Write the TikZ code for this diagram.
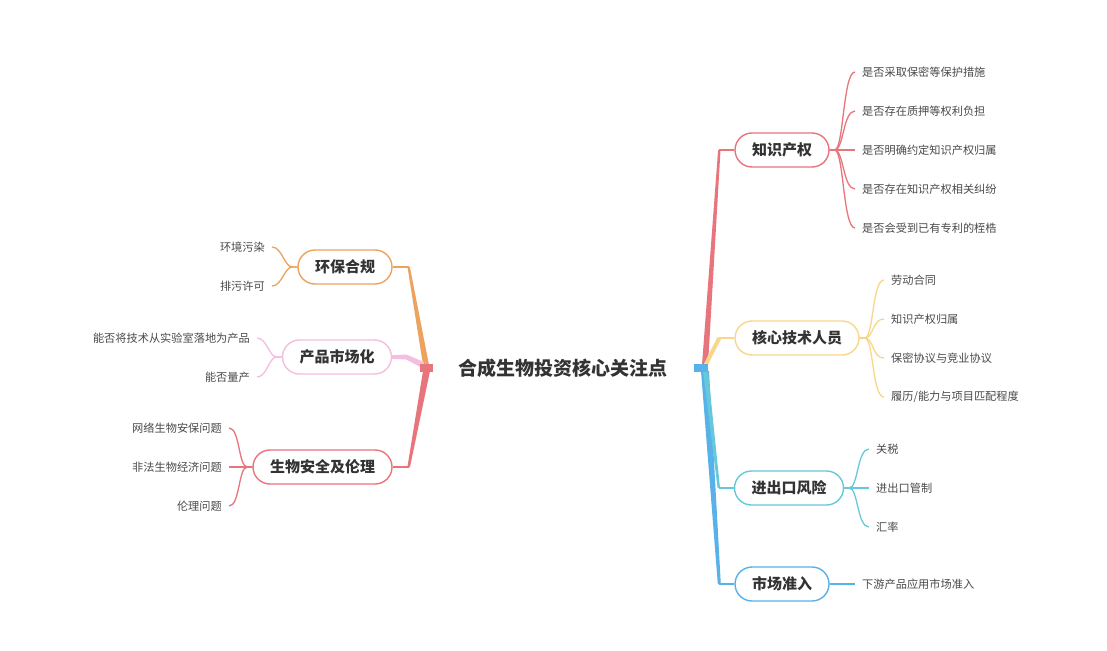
\documentclass[tikz,border=0pt]{standalone}
\usepackage{fontspec}
\setmainfont{Noto Sans CJK SC}
\usetikzlibrary{calc}
\definecolor{cred}{HTML}{E8747C}
\definecolor{cyel}{HTML}{F8D78B}
\definecolor{ccyan}{HTML}{66C8DA}
\definecolor{cblue}{HTML}{58B1E9}
\definecolor{corange}{HTML}{ECA35F}
\definecolor{cpink}{HTML}{F3BEDF}
\definecolor{tdark}{HTML}{333333}
\definecolor{tleaf}{HTML}{4A4A4A}
\tikzset{
  topic/.style={draw=#1, line width=1.4pt, fill=white, rounded corners=17pt,
    minimum height=34pt, inner xsep=17pt, inner ysep=0pt, text=tdark,
    font=\fontsize{15pt}{15pt}\selectfont\bfseries},
  leafR/.style={anchor=west, inner sep=0pt, text=tleaf, font=\fontsize{11.2pt}{12pt}\selectfont},
  leafL/.style={anchor=east, inner sep=0pt, text=tleaf, font=\fontsize{11.2pt}{12pt}\selectfont},
  twig/.style={draw=#1, line width=1.3pt},
  stem/.style={draw=#1, line width=2pt},
}
\begin{document}
\begin{tikzpicture}[x=1pt,y=-1pt]
\useasboundingbox (0,0) rectangle (1107,650);
\fill[white] (0,0) rectangle (1107,650);

% root
\node[inner sep=0pt, text=tdark, font=\fontsize{19pt}{19pt}\selectfont\bfseries] (root) at (563,368) {合成生物投资核心关注点};

% topics right
\node[topic=cred] (k1) at (782,150) {知识产权};
\node[topic=cyel] (k2) at (797,338) {核心技术人员};
\node[topic=ccyan] (k3) at (789,488) {进出口风险};
\node[topic=cblue] (k4) at (782,584) {市场准入};
% topics left
\node[topic=corange] (l1) at (345,267) {环保合规};
\node[topic=cpink] (l2) at (337,357) {产品市场化};
\node[topic=cred] (l3) at (322.5,467) {生物安全及伦理};

% stubs
\coordinate (rs) at (705,368);
\coordinate (ls) at (426,368);
\coordinate (k1j) at ($(k1.west)+(-15,0)$);
\coordinate (k2j) at ($(k2.west)+(-15,0)$);
\coordinate (k3j) at ($(k3.west)+(-15,0)$);
\coordinate (k4j) at ($(k4.west)+(-15,0)$);
\coordinate (l1j) at ($(l1.east)+(16,0)$);
\coordinate (l2j) at ($(l2.east)+(14,0)$);
\coordinate (l3j) at ($(l3.east)+(16,0)$);

% right trunks
\fill[cred] ($(rs)+(-3,-3)$) -- ($(rs)+(3,-3)$) -- ($(k1j)+(1.2,0)$) -- ($(k1j)+(-1.2,0)$) -- cycle;
\draw[stem=cred] (k1j) -- (k1.west);
\fill[cblue] ($(rs)+(-4,3)$) -- ($(rs)+(4,3)$) -- ($(k4j)+(1.5,0)$) -- ($(k4j)+(-1.5,0)$) -- cycle;
\draw[stem=cblue] (k4j) -- (k4.west);
\fill[ccyan] ($(rs)+(-2,3)$) -- ($(rs)+(3,3)$) -- ($(k3j)+(1.2,0)$) -- ($(k3j)+(-1.2,0)$) -- cycle;
\draw[stem=ccyan] (k3j) -- (k3.west);
\draw[cyel, line width=4pt] ($(rs)+(0,-2)$) -- (k2j);
\draw[cyel, line width=2.5pt] (k2j) -- (k2.west);
\fill[cblue] ($(rs)+(-11,-4)$) rectangle ($(rs)+(3,4)$);

% left trunks
\fill[corange] ($(ls)+(-3,-3)$) -- ($(ls)+(3,-3)$) -- ($(l1j)+(1.2,0)$) -- ($(l1j)+(-1.2,0)$) -- cycle;
\draw[stem=corange] (l1j) -- (l1.east);
\fill[cred] ($(ls)+(-3,3)$) -- ($(ls)+(4,3)$) -- ($(l3j)+(1.3,0)$) -- ($(l3j)+(-1.3,0)$) -- cycle;
\draw[stem=cred] (l3j) -- (l3.east);
\fill[cpink] ($(ls)+(-2,-6)$) -- ($(l2j)+(0,-2.5)$) -- ($(l2.east)+(0,-1.8)$) -- ($(l2.east)+(0,1.8)$) -- ($(l2j)+(0,2.5)$) -- ($(ls)+(-2,1)$) -- cycle;
\fill[cred] ($(ls)+(-6,-4)$) rectangle ($(ls)+(7,4)$);

% leaves of k1
\node[leafR] (k1a) at (862,72) {是否采取保密等保护措施};
\node[leafR] (k1b) at (862,111) {是否存在质押等权利负担};
\node[leafR] (k1c) at (862,150) {是否明确约定知识产权归属};
\node[leafR] (k1d) at (862,189) {是否存在知识产权相关纠纷};
\node[leafR] (k1e) at (862,228) {是否会受到已有专利的桎梏};
\foreach \l in {k1a,k1b,k1c,k1d,k1e}
  \draw[twig=cred] (k1.east) -- +(5,0) .. controls +(9,0) and +(-12,0) .. ($(\l.west)+(-7,0)$);

% leaves of k2
\node[leafR] (k2a) at (891,280) {劳动合同};
\node[leafR] (k2b) at (891,319) {知识产权归属};
\node[leafR] (k2c) at (891,358) {保密协议与竞业协议};
\node[leafR] (k2d) at (891,397) {履历/能力与项目匹配程度};
\foreach \l in {k2a,k2b,k2c,k2d}
  \draw[twig=cyel] (k2.east) -- +(5,0) .. controls +(9,0) and +(-12,0) .. ($(\l.west)+(-7,0)$);

% leaves of k3
\node[leafR] (k3a) at (876,449) {关税};
\node[leafR] (k3b) at (876,488) {进出口管制};
\node[leafR] (k3c) at (876,527) {汇率};
\foreach \l in {k3a,k3b,k3c}
  \draw[twig=ccyan] (k3.east) -- +(5,0) .. controls +(9,0) and +(-12,0) .. ($(\l.west)+(-7,0)$);

% leaf of k4
\node[leafR] (k4a) at (862,584) {下游产品应用市场准入};
\draw[twig=cblue] (k4.east) -- ($(k4a.west)+(-7,0)$);

% leaves of l1
\node[leafL] (l1a) at (265,247) {环境污染};
\node[leafL] (l1b) at (265,286) {排污许可};
\foreach \l in {l1a,l1b}
  \draw[twig=corange] (l1.west) -- +(-5,0) .. controls +(-8,0) and +(10,0) .. ($(\l.east)+(7,0)$);

% leaves of l2
\node[leafL] (l2a) at (250,338) {能否将技术从实验室落地为产品};
\node[leafL] (l2b) at (250,377) {能否量产};
\foreach \l in {l2a,l2b}
  \draw[twig=cpink] (l2.west) -- +(-5,0) .. controls +(-8,0) and +(10,0) .. ($(\l.east)+(7,0)$);

% leaves of l3
\node[leafL] (l3a) at (222,428) {网络生物安保问题};
\node[leafL] (l3b) at (222,467) {非法生物经济问题};
\node[leafL] (l3c) at (222,506) {伦理问题};
\foreach \l in {l3a,l3b,l3c}
  \draw[twig=cred] (l3.west) -- +(-5,0) .. controls +(-9,0) and +(11,0) .. ($(\l.east)+(7,0)$);
\end{tikzpicture}
\end{document}
